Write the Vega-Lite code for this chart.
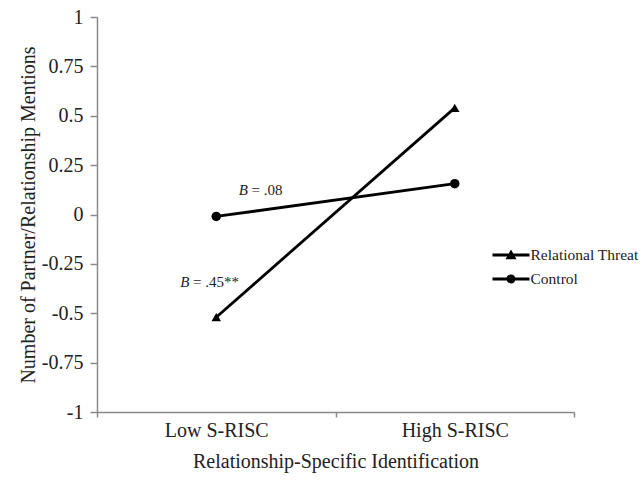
{
  "$schema": "https://vega.github.io/schema/vega-lite/v6.json",
  "width": 477,
  "height": 395,
  "autosize": {"type": "none"},
  "padding": {"left": 97, "top": 17, "right": 67, "bottom": 70},
  "background": "white",
  "config": {
    "view": {"stroke": null},
    "font": "Liberation Serif",
    "axis": {
      "domainColor": "#8a8a8a",
      "tickColor": "#8a8a8a",
      "domainWidth": 1.5,
      "tickWidth": 1.5,
      "labelColor": "#222222",
      "titleColor": "#222222",
      "labelFont": "Liberation Serif",
      "titleFont": "Liberation Serif",
      "labelFontSize": 20,
      "titleFontSize": 20,
      "titleFontWeight": "normal",
      "grid": false
    },
    "legend": {
      "labelFont": "Liberation Serif",
      "labelFontSize": 15.5,
      "labelColor": "#222222"
    }
  },
  "layer": [
    {
      "data": {"values": [
        {"level": "Low S-RISC", "value": -0.52, "group": "Relational Threat"},
        {"level": "High S-RISC", "value": 0.54, "group": "Relational Threat"},
        {"level": "Low S-RISC", "value": -0.01, "group": "Control"},
        {"level": "High S-RISC", "value": 0.156, "group": "Control"}
      ]},
      "resolve": {"scale": {"shape": "independent"}, "legend": {"shape": "independent"}},
      "layer": [
        {
          "mark": {"type": "line", "color": "black", "strokeWidth": 2.8},
          "encoding": {
            "x": {"field": "level", "type": "nominal", "bandPosition": 0.5,
              "scale": {"type": "band", "domain": ["Low S-RISC", "High S-RISC"], "paddingInner": 0, "paddingOuter": 0},
              "axis": {"title": "Relationship-Specific Identification", "tickBand": "extent", "labelAngle": 0, "tickSize": 5, "labelPadding": 3, "titlePadding": 11}},
            "y": {"field": "value", "type": "quantitative",
              "scale": {"domain": [-1, 1], "nice": false, "zero": false},
              "axis": {"title": "Number of Partner/Relationship Mentions", "values": [-1, -0.75, -0.5, -0.25, 0, 0.25, 0.5, 0.75, 1], "labelExpr": "datum.value + ''", "tickSize": 7, "labelPadding": 7, "titlePadding": 3}},
            "detail": {"field": "group"}
          }
        },
        {
          "mark": {"type": "point", "filled": true, "color": "black", "opacity": 1, "size": 90},
          "encoding": {
            "x": {"field": "level", "type": "nominal", "bandPosition": 0.5},
            "y": {"field": "value", "type": "quantitative"},
            "shape": {"field": "group", "type": "nominal",
              "scale": {"domain": ["Relational Threat", "Control"], "range": ["triangle-up", "circle"]},
              "legend": null}
          }
        },
        {
          "mark": {"type": "point", "filled": true, "color": "black", "opacity": 0, "size": 85},
          "encoding": {
            "x": {"field": "level", "type": "nominal", "bandPosition": 0.5},
            "y": {"field": "value", "type": "quantitative"},
            "shape": {"field": "group", "type": "nominal",
              "scale": {"domain": ["Relational Threat", "Control"], "range": ["M-1.85,-0.14H1.85V0.14H-1.85ZM0,-0.55L0.55,0.42L-0.55,0.42Z", "M-1.85,-0.14H1.85V0.14H-1.85ZM0.45,0A0.45,0.45,0,1,1,-0.45,0A0.45,0.45,0,1,1,0.45,0Z"]},
              "legend": {
                "title": null,
                "orient": "none",
                "legendX": 404,
                "legendY": 228,
                "padding": 0,
                "symbolSize": 400,
                "rowPadding": 5,
                "labelOffset": 9.5,
                "symbolOpacity": 1,
                "symbolFillColor": "black",
                "symbolStrokeColor": "black",
                "symbolStrokeWidth": 0
              }}
          }
        }
      ]
    },
    {
      "data": {"values": [{"level": "Low S-RISC", "value": 0.126, "part": "B"}]},
      "mark": {"type": "text", "align": "right", "baseline": "middle", "fontStyle": "italic", "fontSize": 15, "font": "Liberation Serif", "color": "#222222"},
      "encoding": {
        "x": {"field": "level", "type": "nominal", "bandPosition": 0.633},
        "y": {"field": "value", "type": "quantitative"},
        "text": {"field": "part"}
      }
    },
    {
      "data": {"values": [{"level": "Low S-RISC", "value": 0.126, "part": "= .08"}]},
      "mark": {"type": "text", "align": "left", "baseline": "middle", "fontSize": 15, "font": "Liberation Serif", "color": "#222222"},
      "encoding": {
        "x": {"field": "level", "type": "nominal", "bandPosition": 0.648},
        "y": {"field": "value", "type": "quantitative"},
        "text": {"field": "part"}
      }
    },
    {
      "data": {"values": [{"level": "Low S-RISC", "value": -0.343, "part": "B"}]},
      "mark": {"type": "text", "align": "right", "baseline": "middle", "fontStyle": "italic", "fontSize": 15, "font": "Liberation Serif", "color": "#222222"},
      "encoding": {
        "x": {"field": "level", "type": "nominal", "bandPosition": 0.388},
        "y": {"field": "value", "type": "quantitative"},
        "text": {"field": "part"}
      }
    },
    {
      "data": {"values": [{"level": "Low S-RISC", "value": -0.343, "part": "= .45**"}]},
      "mark": {"type": "text", "align": "left", "baseline": "middle", "fontSize": 15, "font": "Liberation Serif", "color": "#222222"},
      "encoding": {
        "x": {"field": "level", "type": "nominal", "bandPosition": 0.403},
        "y": {"field": "value", "type": "quantitative"},
        "text": {"field": "part"}
      }
    }
  ]
}
